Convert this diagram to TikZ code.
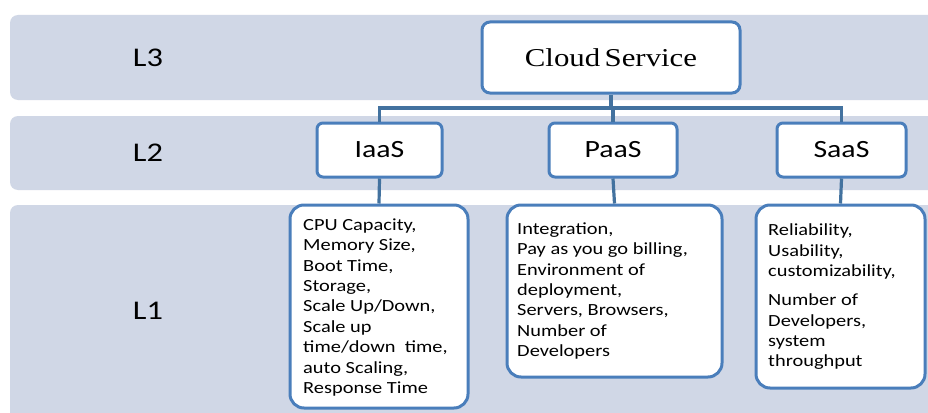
\documentclass[tikz,border=0pt]{standalone}
\usepackage{fontspec}
\setmainfont{Carlito}[FakeStretch=1.2]
\newfontfamily\cloudfont{Liberation Serif}[FakeStretch=1.2]
\definecolor{bandfill}{HTML}{D0D7E6}
\definecolor{boxline}{HTML}{4A7EBB}
\definecolor{wireline}{HTML}{43729F}
\begin{document}
\begin{tikzpicture}[x=1pt,y=-1pt,
  band/.style={fill=bandfill,draw=none,rounded corners=8pt},
  levellabel/.style={font=\fontsize{27}{30}\selectfont,inner sep=0pt},
  topbox/.style={draw=boxline,line width=3pt,fill=white,rounded corners=8pt},
  typebox/.style={draw=boxline,line width=3pt,fill=white,rounded corners=6pt,
    font=\fontsize{24.8}{28}\selectfont},
  detailbox/.style={draw=boxline,line width=3pt,fill=white,rounded corners=14pt},
  detailtext/.style={anchor=north west,inner sep=0pt,align=left,
    font=\fontsize{17}{20.4}\selectfont},
  wire/.style={draw=wireline,line width=3.2pt}]
\useasboundingbox (0,0) rectangle (928,412);
\clip (0,0) rectangle (928,412);
\fill[white] (0,0) rectangle (928,412);

% level bands
\path[band] (10,15) rectangle (945,100);
\path[band] (10,116) rectangle (945,190);
\path[band] (10,205) rectangle (945,430);

\node[levellabel] (l3) at (148,57.5) {L3};
\node[levellabel] (l2) at (148,152.5) {L2};
\node[levellabel] (l1) at (148,311) {L1};

% root, service models and their metric boxes
\node[topbox,minimum width=258pt,minimum height=71pt,
  font=\cloudfont\fontsize{25.7}{28}\selectfont] (cloud) at (611,57.5)
  {Cloud\hspace{0.17em}Service};

\node[typebox,minimum width=125pt,minimum height=54pt] (iaas) at (379.5,150) {IaaS};
\node[typebox,minimum width=128pt,minimum height=54pt] (paas) at (613,150) {PaaS};
\node[typebox,minimum width=129pt,minimum height=54pt] (saas) at (841.5,150) {SaaS};

\node[detailbox,minimum width=178pt,minimum height=203pt] (iaasd) at (379,306.5) {};
\node[detailbox,minimum width=215pt,minimum height=172pt] (paasd) at (614.5,291) {};
\node[detailbox,minimum width=169pt,minimum height=183pt] (saasd) at (840.5,296.5) {};

% tree connectors
\coordinate (bus) at (612,108);
\draw[wire] (cloud.south) -- (cloud.south |- bus);
\draw[wire] (iaas.north) -- (iaas.north |- bus) -- (saas.north |- bus) -- (saas.north);
\draw[wire] (paas.north) -- (paas.north |- bus);
\draw[wire] (iaas.south) -- (iaasd.north);
\draw[wire] (paas.south) -- (paasd.north);
\draw[wire] (saas.south) -- (saasd.north);

% metric lists
\node[detailtext] (iaast) at (303,216) {\rule{0pt}{14pt}CPU Capacity,\\
  Memory Size,\\ Boot Time,\\ Storage,\\ Scale Up/Down,\\ Scale up\\
  time/down\ \ time,\\ auto Scaling,\\ Response Time};
\node[detailtext] (paast) at (517,220) {\rule{0pt}{14pt}Integration,\\
  Pay as you go billing,\\ Environment of\\ deployment,\\
  Servers, Browsers,\\ Number of\\ Developers};
\node[detailtext] (saast) at (768,221.7) {\rule{0pt}{14pt}Reliability,\\
  Usability,\\ customizability,\\[8.5pt] Number of\\ Developers,\\
  system\\ throughput};
\end{tikzpicture}
\end{document}
